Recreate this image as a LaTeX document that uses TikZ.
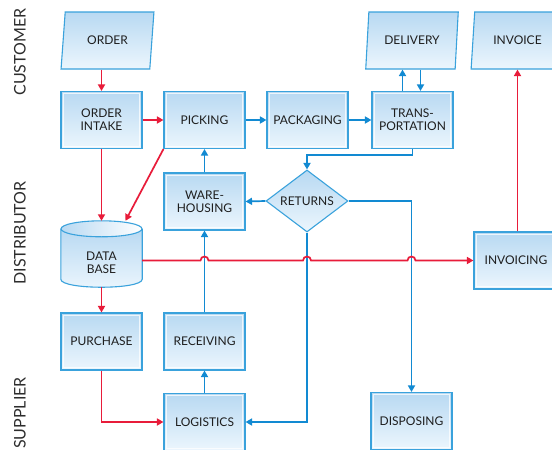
\documentclass[tikz,border=0pt]{standalone}
\usepackage{fontspec}
\setmainfont{Lato}
\usetikzlibrary{shapes.geometric,arrows.meta,calc}

\definecolor{flowblue}{RGB}{18,138,210}
\definecolor{flowred}{RGB}{232,28,58}
\definecolor{edgeblue}{RGB}{58,162,220}
\definecolor{filltop}{RGB}{184,217,242}
\definecolor{fillbot}{RGB}{236,246,253}
\definecolor{inktext}{RGB}{30,30,30}
\definecolor{lanetext}{RGB}{45,45,45}

\begin{document}
\begin{tikzpicture}[x=1pt,y=-1pt,
  shapebase/.style={draw=edgeblue, line width=1.1pt, top color=filltop,
    bottom color=fillbot, align=center, text=inktext,
    font=\fontsize{12}{13}\selectfont},
  box/.style={shapebase, rectangle, minimum width=81pt, minimum height=57pt,
    inner sep=2pt,
    path picture={\draw[white, opacity=.75, line width=1.1pt]
      ([shift={(2.4pt,-2.4pt)}]path picture bounding box.north west) rectangle
      ([shift={(-2.4pt,2.4pt)}]path picture bounding box.south east);}},
  slanted/.style={shapebase, trapezium, trapezium left angle=79,
    trapezium right angle=101, trapezium stretches=true,
    minimum width=93pt, minimum height=57pt, inner sep=1pt},
  decision/.style={shapebase, diamond, aspect=1.32, minimum width=82pt,
    minimum height=62pt, inner sep=0pt},
  dbshape/.style={rectangle, minimum width=81pt, minimum height=66pt,
    inner sep=0pt},
  dbtext/.style={align=center, text=inktext, inner sep=0pt,
    font=\fontsize{12}{13}\selectfont},
  lane/.style={rotate=90, text=lanetext, font=\fontsize{16}{18}\selectfont},
  tip/.style={-{Triangle[length=6.5pt,width=7pt]}},
  redline/.style={draw=flowred, line width=1.7pt, tip},
  blueline/.style={draw=flowblue, line width=1.7pt, tip}
]
\fill[white] (0,0) rectangle (552,450);
\useasboundingbox (0,0) rectangle (552,450);
\clip (0,0) rectangle (552,450);

% swim-lane captions
\node[lane] (lcust) at (20,52) {CUSTOMER};
\node[lane] (ldist) at (20,233) {DISTRIBUTOR};
\node[lane] (lsupp) at (20,413) {SUPPLIER};

% customer row
\node[slanted] (order) at (107.5,40.5) {ORDER};
\node[slanted] (deliv) at (412,40.5) {DELIVERY};
\node[slanted] (invc)  at (517.5,40.5) {INVOICE};

% distributor: main flow
\node[box] (oi)    at (101.5,120) {ORDER\\INTAKE};
\node[box] (pick)  at (204.5,120) {PICKING};
\node[box] (pack)  at (307.5,120) {PACKAGING};
\node[box] (trans) at (412.5,120) {TRANS-\\PORTATION};
\node[box] (wh)    at (204.5,201.5) {WARE-\\HOUSING};
\node[decision] (ret) at (307,201) {RETURNS};
\node[box, minimum width=84pt] (invg) at (516,260.5) {INVOICING};

% database cylinder: an outline-free anchor box, then the drawn drum
\node[dbshape] (db) at (101.5,254) {};
\shade[top color=filltop, bottom color=fillbot]
  ($(db.north west)+(0,8)$) -- ($(db.south west)+(0,-8)$)
  .. controls +(0,10.7) and +(0,10.7) .. ($(db.south east)+(0,-8)$)
  -- ($(db.north east)+(0,8)$) -- cycle;
\shade[left color=filltop, right color=white]
  ($(db.north)+(0,8)$) ellipse[x radius=40.5pt, y radius=8pt];
\draw[edgeblue, line width=1.1pt]
  ($(db.north west)+(0,8)$) -- ($(db.south west)+(0,-8)$)
  .. controls +(0,10.7) and +(0,10.7) .. ($(db.south east)+(0,-8)$)
  -- ($(db.north east)+(0,8)$);
\draw[edgeblue, line width=1.1pt]
  ($(db.north)+(0,8)$) ellipse[x radius=40.5pt, y radius=8pt];
\node[dbtext] (dblabel) at ($(db.center)+(0,9)$) {DATA\\BASE};

% supplier row
\node[box] (pur)  at (101.5,341.5) {PURCHASE};
\node[box] (rcv)  at (204.5,341.5) {RECEIVING};
\node[box] (log)  at (204.5,422) {LOGISTICS};
\node[box] (disp) at (411.5,421) {DISPOSING};

% material flow
\draw[blueline] (pick.east) -- (pack.west);
\draw[blueline] (pack.east) -- (trans.west);
\draw[blueline] ([xshift=-10pt]trans.north) -- ([xshift=-10pt]trans.north |- deliv.south);
\draw[blueline] ([xshift=8pt]trans.north |- deliv.south) -- ([xshift=8pt]trans.north);
\draw[blueline] (trans.south) -- ++(0,6) -| (ret.north);
\draw[blueline] (ret.west) -- (wh.east);
\draw[blueline] (ret.east) -| (disp.north);
\draw[blueline] (ret.south) |- (log.east);
\draw[blueline] (wh.north) -- (pick.south);
\draw[blueline] (rcv.north) -- (wh.south);
\draw[blueline] (log.north) -- (rcv.south);

% information flow
\draw[redline] (oi.north |- order.south) -- (oi.north);
\draw[redline] (oi.east) -- (pick.west);
\draw[redline] (oi.south) -- (db.north);
\draw[redline] (pick.south west) -- ([xshift=24pt]db.north);
\draw[redline] (db.south) -- (pur.north);
\draw[redline] (pur.south) |- (log.west);
\draw[redline] (invc.south |- invg.north) -- (invc.south);

% database to invoicing, hopping over the material lines
\path (rcv.north |- invg.west) coordinate (hop1)
      (ret.south |- invg.west) coordinate (hop2)
      (disp.north |- invg.west) coordinate (hop3);
\draw[redline] (db.east |- invg.west)
  -- ([xshift=-4pt]hop1) .. controls +(0,-5.3) and +(0,-5.3) .. ([xshift=4pt]hop1)
  -- ([xshift=-4pt]hop2) .. controls +(0,-5.3) and +(0,-5.3) .. ([xshift=4pt]hop2)
  -- ([xshift=-4pt]hop3) .. controls +(0,-5.3) and +(0,-5.3) .. ([xshift=4pt]hop3)
  -- (invg.west);
\end{tikzpicture}
\end{document}
